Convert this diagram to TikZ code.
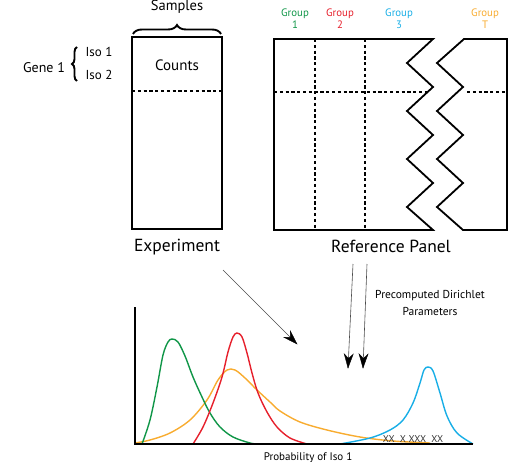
\documentclass[tikz,border=0pt]{standalone}
\usepackage{fontspec}
\setmainfont{PT Sans}
\usetikzlibrary{decorations.pathreplacing}
\definecolor{cgreen}{RGB}{16,150,72}
\definecolor{cred}{RGB}{230,32,44}
\definecolor{corange}{RGB}{248,172,48}
\definecolor{ccyan}{RGB}{24,174,230}
\tikzset{
  boxline/.style={line width=1.8pt, line join=miter},
  dashline/.style={line width=1.3pt, dash pattern=on 3.2pt off 2.6pt},
  lbl/.style={inner sep=0pt, anchor=base},
  curve/.style={line width=1.4pt, smooth, tension=0.55},
  ptrline/.style={line width=0.6pt, draw=black!70},
  ptrhead/.style={fill=black, draw=black, line width=0.4pt, line join=miter},
  bracestyle/.style={line width=1.9pt, decorate},
}
\begin{document}
\begin{tikzpicture}[x=1pt,y=-1pt]
\useasboundingbox (0,0) rectangle (513,462);
% ---- Experiment ----
\draw[boxline] (132,37) rectangle (222,229);
\draw[dashline] (132,91) -- (222,91);
\draw[bracestyle, decoration={brace, amplitude=9pt}] (133,34) -- (221,34);
\node[lbl, font=\fontsize{14.5}{17}\selectfont] (samples) at (177,11) {Samples};
\node[lbl, font=\fontsize{15}{17}\selectfont] (counts) at (177,71) {Counts};
\node[lbl, font=\fontsize{17.5}{20}\selectfont] (experiment) at (177,251) {Experiment};
\node[lbl, font=\fontsize{14}{16}\selectfont] (gene) at (44,73) {Gene 1};
\draw[bracestyle, decoration={brace, amplitude=5pt}] (77,81) -- (77,47);
\node[lbl, font=\fontsize{13}{15}\selectfont] (iso1) at (99,57) {Iso 1};
\node[lbl, font=\fontsize{13}{15}\selectfont] (iso2) at (99,80) {Iso 2};
% ---- Reference panel ----
\draw[boxline] (433,39) -- (274,39) -- (274,230) -- (433,230)
  -- (407,207) -- (433,183) -- (407,159) -- (433,135) -- (407,111) -- (433,87) -- (407,63) -- cycle;
\draw[boxline] (464,39) -- (507,39) -- (507,230) -- (463,230)
  -- (437,207) -- (463,183) -- (437,159) -- (463,135) -- (437,111) -- (463,87) -- (437,63) -- cycle;
\draw[dashline] (315,39) -- (315,230);
\draw[dashline] (365,39) -- (365,230);
\draw[dashline] (274,92) -- (428,92);
\draw[dashline] (467,92) -- (507,92);
\begin{scope}[font=\fontsize{10.8}{13}\selectfont]
\node[lbl, text=cgreen] (g1a) at (295,17) {Group};
\node[lbl, text=cgreen] (g1b) at (295,29) {1};
\node[lbl, text=cred] (g2a) at (340,17) {Group};
\node[lbl, text=cred] (g2b) at (340,29) {2};
\node[lbl, text=ccyan] (g3a) at (399,17) {Group};
\node[lbl, text=ccyan] (g3b) at (399,29) {3};
\node[lbl, text=corange] (gta) at (485,17) {Group};
\node[lbl, text=corange] (gtb) at (485,29) {T};
\end{scope}
\node[lbl, font=\fontsize{17.5}{20}\selectfont] (refpanel) at (391,252) {Reference Panel};
% ---- arrows ----
\coordinate (e1) at (223,270);
\coordinate (e2) at (297,344);
\coordinate (r1) at (353,264);
\coordinate (r2) at (348,368);
\coordinate (s1) at (367,264);
\coordinate (s2) at (363,368);
\draw[ptrline] (e1) -- (e2);
\draw[ptrline] (r1) -- (r2);
\draw[ptrline] (s1) -- (s2);
\filldraw[ptrhead] (e2) -- (283.9,337.3) -- (290.3,337.3) -- (290.3,330.9) -- cycle;
\filldraw[ptrhead] (r2) -- (344.2,353.8) -- (348.5,358.5) -- (353.2,354.2) -- cycle;
\filldraw[ptrhead] (s2) -- (359.0,353.8) -- (363.4,358.5) -- (368.0,354.2) -- cycle;
\node[lbl, font=\fontsize{11.5}{13}\selectfont] (pdp1) at (430,298) {Precomputed Dirichlet};
\node[lbl, font=\fontsize{11.5}{13}\selectfont] (pdp2) at (430,315) {Parameters};
% ---- plot ----
\draw[curve, corange] plot coordinates {(135,443) (150,440) (170,433) (190,420) (207,400) (218,380) (227,370) (235,370) (245,378) (257,390) (270,402) (280,411) (300,422) (327,430) (360,437) (393,441) (430,443)};
\draw[curve, cgreen] plot coordinates {(142,444) (150,420) (157,387) (163,355) (168,342) (172,339) (178,342) (185,356) (193,377) (202,397) (210,413) (220,427) (233,437) (250,443) (258,444)};
\draw[curve, cred] plot coordinates {(193,444) (203,427) (213,403) (222,377) (228,352) (233,337) (237,333) (242,337) (247,353) (252,373) (258,393) (267,412) (277,427) (290,438) (307,444)};
\draw[curve, ccyan] plot coordinates {(340,444) (370,438) (390,430) (403,420) (413,403) (420,383) (424,370) (428,367) (433,371) (440,393) (447,416) (457,433) (473,444)};
\draw[line width=1.8pt] (135,307) -- (135,444) -- (473,444);
\node[lbl, font=\fontsize{9.8}{11}\selectfont, text=black!80] (xx) at (413,442) {XX\ \ X XXX\ \ XX};
\node[lbl, font=\fontsize{11}{13}\selectfont] (xlab) at (308,460) {Probability of Iso 1};
\end{tikzpicture}
\end{document}
